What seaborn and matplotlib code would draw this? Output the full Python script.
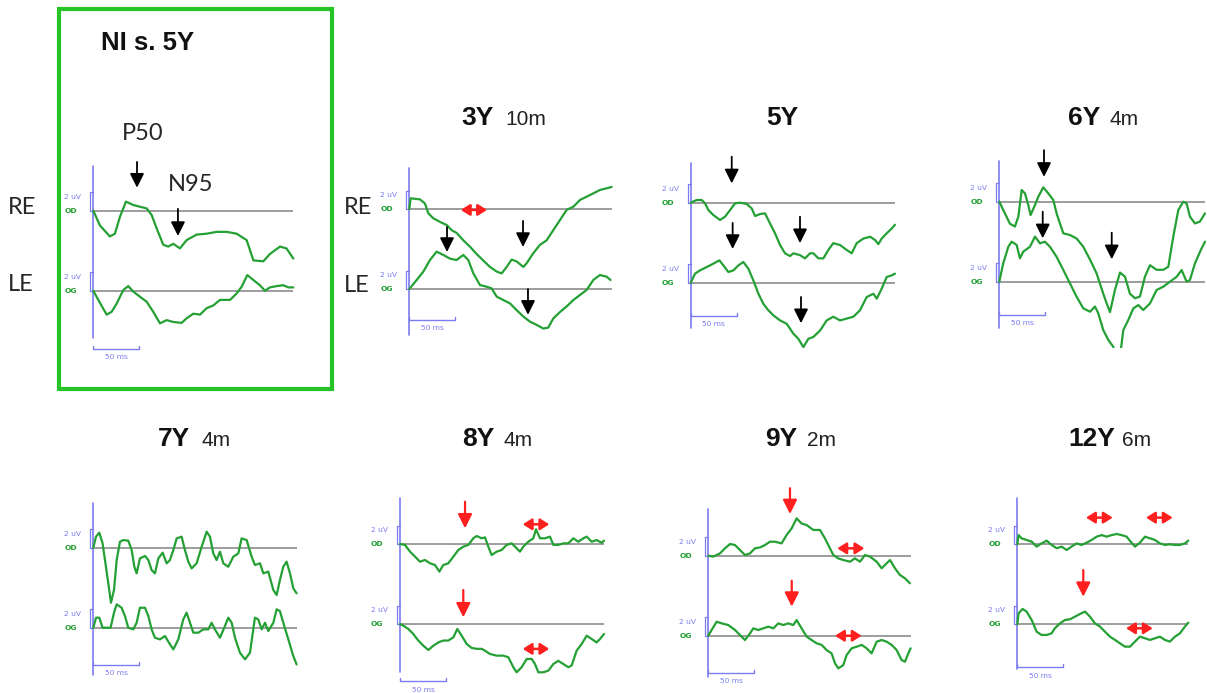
import numpy as np
import pandas as pd
import matplotlib
matplotlib.use("Agg")
import matplotlib.pyplot as plt
from matplotlib.patches import Rectangle
import seaborn as sns

sns.set_theme(style="white")
plt.rcParams["font.family"] = ["Liberation Sans", "DejaVu Sans"]

# ---------------------------------------------------------------- data
# Pattern ERG traces: time (ms) and amplitude (uV) for right (OD) and left (OG) eye

ni_od_ms = [0, 7.2, 18, 23.5, 29, 35.5, 43.5, 50.7, 58, 63.4, 68.8, 76, 81.5, 87, 94.2, 101.4,
            112.3, 123.2, 134, 145, 155.8, 166.7, 174, 184.8, 192, 203, 210, 217.4]
ni_od_uv = [0, -1.6, -2.8, -2.5, -0.65, 0.98, 0.62, 0.43, 0.25, -0.47, -1.9, -3.7, -3.9, -3.6, -4.1, -3.2,
            -2.6, -2.5, -2.3, -2.3, -2.5, -3.2, -5.4, -5.5, -4.7, -3.9, -4.1, -5.2]
ni_og_ms = [0, 5.4, 14.5, 19.9, 25.4, 32.6, 38, 43.5, 50.7, 58, 65.2, 72.5, 79.7, 87, 96, 101.4,
            108.7, 116, 123.2, 130.4, 137.7, 148.6, 155.8, 161.2, 167.4, 174, 181, 186.6, 192, 199.3,
            206.5, 212, 217.4]
ni_og_uv = [0, -1.0, -2.6, -2.3, -1.4, 0.07, 0.5, -0.1, -0.65, -1.2, -2.3, -3.55, -3.2, -3.4, -3.5, -3.0,
            -2.5, -2.6, -1.9, -1.6, -1.0, -1.0, -0.3, 0.43, 1.7, 1.16, 0.6, 0.0, 0.36, 0.5,
            0.6, 0.36, 0.36]

y3_od_ms = [0, 1.4, 11.6, 17, 20.7, 26, 33.3, 40.6, 46, 51.4, 58.7, 66, 73.2, 80.4, 87.7, 95, 100.4,
            105.8, 111.2, 116.7, 124, 127.5, 134.8, 142, 149.3, 156.5, 163.8, 171, 178.3, 185.5, 192.8,
            200, 207.2, 214.5, 220]
y3_od_uv = [0, 1.16, 1.05, 0.6, -0.47, -1.0, -1.4, -1.74, -2.3, -2.6, -3.4, -4.1, -4.9, -5.6, -6.3, -6.8, -7.0,
            -6.3, -5.5, -5.7, -6.3, -5.9, -4.8, -3.9, -3.4, -2.3, -1.2, -0.1, 0.25, 0.98, 1.34,
            1.7, 2.07, 2.25, 2.4]
y3_og_ms = [0, 8, 15.2, 22.5, 29.7, 37, 44.2, 51.4, 58.7, 64.1, 69.6, 76.8, 84, 89.5, 95, 102.2, 109.4,
            116.7, 124, 131.2, 138.4, 145.7, 151, 156.5, 163.8, 171, 178.3, 185.5, 192.8, 200, 207.2,
            214.5, 218.8]
y3_og_uv = [0, 0.98, 1.88, 3.15, 4.06, 3.7, 3.3, 3.15, 3.7, 3.15, 1.7, 0.43, 0.25, 0.07, -0.83, -1.2, -1.56,
            -2.3, -3.0, -3.55, -3.9, -4.3, -4.2, -3.2, -2.5, -1.9, -1.2, -0.65, -0.1, 0.98, 1.52,
            1.34, 0.98]

y5_od_ms = [0, 6.5, 12, 15.6, 19.2, 24.6, 31.9, 37.3, 42.8, 48.2, 53.6, 60.9, 66.3, 70, 75.4, 80.8, 86.2,
            91.7, 97.1, 102.5, 108, 111.6, 118.8, 124.3, 129.7, 133.3, 138.8, 144.2, 149.6, 155, 162.3,
            169.6, 175, 180.4, 187.7, 195, 200.4, 204, 207.6, 213, 218.5, 222]
y5_od_uv = [0, 0.29, 0.29, -0.07, -0.8, -1.34, -1.88, -1.52, -0.8, -0.07, 0, -0.14, -0.62, -1.45, -1.23, -1.16,
            -2.25, -3.33, -4.6, -5.5, -5.8, -5.5, -5.7, -6.05, -5.5, -5.5, -6.05, -6.05, -5.14, -4.4, -4.6,
            -5.14, -5.5, -4.4, -3.9, -3.7, -4.06, -4.5, -3.9, -3.33, -2.8, -2.4]
y5_og_ms = [0, 4.7, 10.1, 17.4, 24.6, 31.2, 35.5, 40.9, 46.4, 51.8, 57.2, 62.7, 68.1, 73.6, 79, 84.4, 89.9,
            97.1, 104.3, 111.6, 117, 122.5, 127.9, 133.3, 140.6, 147.8, 155, 162.3, 169.6, 176.8, 184,
            191.3, 198.6, 202.2, 207.6, 213, 218.5, 222]
y5_og_uv = [0, 0.98, 1.34, 1.7, 2.07, 2.43, 1.88, 1.16, 1.34, 1.88, 2.25, 1.52, 0.25, -1.2, -2.3, -3.0, -3.55,
            -4.1, -4.46, -5.54, -6.1, -7.0, -6.1, -5.9, -5.2, -4.1, -3.7, -4.1, -3.9, -3.7, -3.0,
            -1.56, -1.2, -1.74, -0.65, 0.62, 0.8, 0.98]

y6_od_ms = [0, 4.3, 11.6, 17, 20.7, 24.3, 27.9, 31.5, 34, 38.8, 42.4, 47.8, 53.3, 58.7, 62.3, 65.9, 69.6,
            76.8, 84, 91.3, 98.6, 105.8, 113, 116.7, 120.3, 125.7, 131.2, 136.6, 142, 147.5, 152.9,
            158.3, 163.8, 171, 178.3, 183.7, 189.1, 194.6, 200, 203.6, 207.2, 212.7, 218, 223.6]
y6_od_uv = [0, -0.9, -2.4, -2.7, -1.63, 1.27, 0.9, -0.36, -1.45, -0.36, 0.54, 1.56, 0.9, 0.18, -1.27, -2.36, -3.44,
            -3.62, -4.0, -4.9, -6.3, -7.8, -10.0, -11.05, -12.0, -9.6, -7.7, -8.15, -10.0, -10.5, -10.3,
            -8.15, -6.9, -7.4, -7.4, -7.07, -3.8, -0.9, 0, -0.18, -1.63, -2.36, -2.17, -1.27]
y6_og_ms = [0, 4.3, 9.8, 13.4, 18.8, 22.5, 26, 33.3, 38.8, 44.2, 49.6, 55, 62.3, 69.6, 76.8, 84, 91.3,
            98.6, 104, 107.6, 113, 118.5, 123.9, 127.5, 131.2, 134.8, 140.2, 145.7, 151.1, 156.5, 163.8,
            171, 178.3, 185.5, 192.8, 198.2, 203.6, 207.2, 212.7, 219, 223.6]
y6_og_uv = [0, 2.0, 3.8, 4.35, 4.0, 2.54, 3.26, 3.8, 4.9, 4.17, 4.35, 3.8, 2.7, 1.27, -0.18, -1.63, -2.9,
            -3.26, -2.7, -3.44, -5.25, -6.34, -7.07, -8.9, -8.15, -5.25, -4.17, -2.9, -2.54, -3.08, -2.36,
            -0.9, -0.54, 0, 0.54, 1.27, 0, 0.18, 2.0, 3.44, 4.35]

y7_od_ms = [0, 2.9, 6.5, 10.1, 12.7, 16.3, 19.2, 22.5, 25.4, 29, 32.6, 38, 41.7, 44.6, 47.1, 50.7, 56.2,
            59.8, 63.4, 67, 70.7, 75.4, 79.7, 83.3, 87, 90.6, 96, 99.6, 103.3, 106.9, 112.3, 117.8,
            123.2, 126.8, 130.4, 134, 137.7, 141.3, 146.7, 152.2, 157.6, 161.2, 166.7, 172.1, 175.7,
            181.2, 184.8, 190.2, 195.7, 199.3, 202.9, 206.5, 210.1, 213.8, 217.4, 221]
y7_od_uv = [0, 1.2, 1.63, 0.47, -1.34, -3.88, -5.98, -4.6, -1.34, 0.65, 0.83, 0.76, -0.25, -2.07, -2.79, -1.16, -0.9,
            -1.34, -2.43, -2.79, -1.16, -0.54, -1.7, -1.34, -0.25, 1.01, 1.2, -0.25, -1.52, -2.25, -1.7, 0.11,
            1.74, 1.2, -0.62, -1.34, -0.43, -1.7, -2.07, -0.98, -0.62, 1.01, 0.83, -0.98, -1.88,
            -1.7, -2.79, -2.6, -4.6, -5.14, -3.5, -2.07, -1.52, -2.79, -4.42, -4.96]
y7_og_ms = [0, 2.9, 6.5, 10.1, 14.5, 18.8, 22.5, 25.4, 30.8, 34.4, 38, 43.5, 47.1, 50.7, 56.2, 59.8, 63.4,
            67, 72.5, 77.9, 83.3, 87, 92.4, 97.8, 101.4, 105.1, 108.7, 114.1, 119.6, 125, 128.6, 132.2,
            137.7, 143.1, 146.7, 150.4, 154, 159.4, 164.9, 170.3, 175.7, 179.3, 183, 186.6, 190.2, 195.7,
            199.3, 202.9, 206.5, 212, 217.4, 221]
y7_og_uv = [0, 1.09, 1.09, 0, 0, 0, 1.63, 2.54, 2.17, 1.27, 0, -0.18, 0.54, 2.17, 2.17, 1.27, -0.18,
            -1.09, -1.27, -0.9, -1.8, -2.36, -1.27, 0.9, 1.63, 0.54, -0.54, -0.54, -0.18, -0.18, 0.54, -0.18,
            -1.09, 0.18, 1.09, 0.54, -1.09, -2.72, -3.44, -2.72, 1.09, 0.9, -0.18, 0.54, -0.36, 0.54,
            2.0, 1.8, 0.54, -1.27, -3.08, -3.99]

y8_od_ms = [0, 5.4, 10.9, 16.3, 21.7, 27.2, 32.6, 38, 42.8, 47.1, 52.5, 58, 63.4, 68.8, 74.3, 79.7, 83.3,
            88.8, 92.4, 96, 99.6, 105.1, 110.5, 115.9, 121.4, 126.8, 130.4, 134, 139.5, 144.9, 147.8,
            152.2, 157.6, 163, 166.7, 172.1, 177.5, 183, 188.4, 193.8, 199.3, 202.9, 208.3, 213.8, 219.2, 221.7]
y8_od_uv = [0, -0.1, -0.83, -1.37, -1.92, -1.74, -2.1, -2.28, -3.0, -2.28, -2.1, -1.37, -0.65, -0.29, -0.1, 0.62, 0.87,
            0.62, 0.72, -0.29, -1.2, -0.83, -0.65, -0.1, 0.07, -0.47, -0.83, -0.29, 0.25, 0.62, 1.6,
            0.62, 0.62, 0.8, -0.1, -0.1, 0.07, 0.07, 0.62, 0.25, 0.62, 0.8, 0.25, 0.43, 0.14, 0.36]
y8_og_ms = [0, 3.6, 9.1, 14.5, 19.9, 25.4, 30.8, 36.2, 41.7, 47.1, 52.5, 58, 62.3, 67, 72.5, 77.9, 83.3,
            88.8, 92.4, 97.8, 105.1, 112.3, 117.8, 123.2, 126.8, 132.2, 137.7, 143.1, 146.7, 150.4, 155.8,
            161.2, 166.7, 172.1, 177.5, 183, 186.6, 192, 197.5, 202.9, 208.3, 213.8, 217.4, 221.7]
y8_og_uv = [0, -0.18, -0.54, -1.09, -1.8, -2.36, -2.83, -2.36, -2.0, -1.8, -1.8, -1.45, -0.54, -1.27, -2.17, -2.6, -2.7,
            -2.7, -2.9, -3.26, -3.44, -3.44, -3.62, -4.7, -5.25, -4.7, -3.8, -3.8, -4.35, -5.25, -5.25,
            -5.07, -4.35, -4.0, -4.35, -4.7, -4.5, -2.9, -2.17, -1.27, -1.63, -2.0, -1.63, -1.09]

y9_od_ms = [0, 5.4, 12.7, 18.1, 23.6, 29, 34.4, 39.9, 45.3, 50.7, 56.2, 61.6, 67, 72.5, 79.7, 85.1, 90.6,
            96, 101.4, 106.9, 114.1, 121.4, 126.8, 132.2, 135.9, 141.3, 146.7, 154, 159.4, 164.9, 170.3,
            175.7, 183, 188.4, 193.8, 197.5, 202.9, 208.3, 213.8, 219.2]
y9_od_uv = [0, -0.1, 0.25, 0.8, 1.27, 1.16, 0.62, 0.07, 0.25, 0.8, 0.9, 1.16, 1.52, 1.52, 1.34, 2.25, 2.97,
            4.06, 3.5, 3.33, 2.8, 2.8, 1.88, 0.8, 0.07, -0.29, -0.47, -0.65, -0.29, -0.65, 0.07,
            -0.1, -0.65, -1.37, -0.83, -0.47, -1.37, -2.1, -2.46, -3.0]
y9_og_ms = [0, 3.6, 9.1, 14.5, 21.7, 29, 34.4, 39.9, 45.3, 48.9, 54.3, 59.8, 65.2, 70.7, 76.1, 81.5, 87,
            92.4, 96, 101.4, 106.9, 112.3, 117.8, 123.2, 128.6, 134, 137.7, 141.3, 146.7, 150.4, 155.8,
            161.2, 166.7, 172.1, 177.5, 183, 188.4, 193.8, 199.3, 204.7, 210.1, 213.8, 217.4, 219.9]
y9_og_uv = [0, 0.62, 1.52, 1.34, 1.16, 0.62, 0.07, -0.47, 0.25, 0.8, 0.62, 0.8, 0.98, 0.8, 1.34, 1.16, 1.34,
            1.16, 1.7, 0.8, -0.1, -0.47, -0.83, -1.0, -1.56, -1.92, -3.0, -3.55, -3.2, -2.1, -1.37,
            -1.2, -1.0, -1.37, -1.92, -0.65, -0.47, -0.65, -1.0, -1.56, -2.64, -2.83, -1.92, -1.37]

y12_od_ms = [0, 1.4, 4.7, 10.1, 15.6, 21, 26.4, 31.9, 37.3, 42.8, 48.2, 53.6, 59, 64.5, 69.9, 75.4, 80.8,
             86.2, 91.7, 97.1, 102.5, 108, 113.4, 118.8, 123.2, 127.9, 133.3, 138.8, 144.2, 149.6, 155,
             160.5, 165.9, 171.4, 176.8, 182.2, 185.9]
y12_od_uv = [0, 1.0, 0.65, 0.47, 0.29, -0.25, 0.1, 0.4, -0.07, -0.43, -0.25, -0.62, -0.25, 0.1, -0.07, 0.18, 0.47,
             0.83, 1.0, 0.83, 1.0, 1.12, 1.0, 0.83, 0.29, -0.25, 0.18, 0.83, 0.65, 0.47, 0.1,
             -0.07, 0, -0.07, -0.07, 0.1, 0.4]
y12_og_ms = [0, 1.4, 5.8, 10.1, 15.6, 21, 26.4, 31.9, 37.3, 40.9, 46.4, 51.8, 57.2, 62.7, 68.1, 73.6, 79,
             84.4, 89.9, 95.3, 100.7, 106.2, 111.6, 117, 122.5, 127.9, 133.3, 138.8, 144.2, 149.6, 155,
             160.5, 165.9, 171.4, 176.8, 182.2, 185.9]
y12_og_uv = [0, 1.2, 1.67, 1.38, 0.47, -0.8, -1.16, -1.16, -0.98, -0.43, 0.1, 0.47, 0.54, 0.83, 1.12, 1.38, 0.83,
             0.1, -0.25, -0.8, -1.34, -1.7, -2.07, -2.43, -2.43, -1.88, -1.34, -1.52, -1.7, -1.52, -1.34,
             -1.7, -1.88, -1.34, -0.98, -0.25, 0.18]

# ---------------------------------------------------------------- style
W, H = 1207, 693
PX_MS = 0.92            # pixels per millisecond
PX_UV = 9.2             # pixels per microvolt
OG_SHIFT = -80 / PX_UV  # left-eye trace drawn below the right-eye trace

TRACE = "#24a034"
BASE = "#8c8c8c"
BLUE = "#7c7cf2"
RED = "#ff1f1f"
BOX = "#27c427"
TITLE_FONT = ["Liberation Sans", "DejaVu Sans"]
LABEL_FONT = ["Lato", "DejaVu Sans"]

fig = plt.figure(figsize=(W / 100, H / 100), dpi=100)


def fx(x):
    return x / W


def fy(y):
    return 1 - y / H


def make_axes(x0, y0, bottom=150, left=45, right=215, top=62):
    ax = fig.add_axes([fx(x0 - left), fy(y0 + bottom), (left + right) / W, (top + bottom) / H])
    return ax, (-left / PX_MS, right / PX_MS), (-bottom / PX_UV, top / PX_UV)


def draw_panel(p):
    ax, xl, yl = make_axes(p["x0"], p["y0"], bottom=p.get("clip", 150))
    sweep = max(max(p["od"][0]), max(p["og"][0]))
    for (ms, uv), shift, tag in ((p["od"], 0.0, "OD"), (p["og"], OG_SHIFT, "OG")):
        ax.plot([0, sweep], [shift, shift], color=BASE, lw=1.2, zorder=1, solid_capstyle="butt")
        df = pd.DataFrame({"ms": ms, "uv": np.asarray(uv, dtype=float) + shift})
        sns.lineplot(data=df, x="ms", y="uv", ax=ax, color=TRACE, lw=1.6,
                     estimator=None, sort=False, legend=False, zorder=3)
        bx = -3.2 / PX_MS
        ax.plot([0, bx, bx, 0], [shift, shift, shift + 2, shift + 2], color=BLUE, lw=0.9,
                clip_on=False, zorder=2)
        ax.text(-29 / PX_MS, shift + 14 / PX_UV, "2 uV", color=BLUE, fontsize=5.4,
                family=["DejaVu Sans"], ha="left", va="center")
        ax.text(-29 / PX_MS, shift, tag, color=TRACE, fontsize=5.4, fontweight="bold",
                family=["DejaVu Sans"], ha="left", va="center")
    top, bot = p["axis"]
    ax.plot([0, 0], [top / PX_UV, -bot / PX_UV], color=BLUE, lw=1.2, clip_on=False, zorder=2)
    yb = -p["bar"] / PX_UV
    ax.plot([0, 0, 50, 50], [yb + 3 / PX_UV, yb, yb, yb + 3 / PX_UV], color=BLUE, lw=1.0,
            clip_on=False)
    ax.text(23 / PX_MS, yb - 8.5 / PX_UV, "50 ms", color=BLUE, fontsize=5.4,
            family=["DejaVu Sans"], ha="center", va="center")
    for t, tail, tip, c in p.get("arrows", []):
        ax.annotate("", xy=(t, tip), xytext=(t, tail), annotation_clip=False,
                    arrowprops=dict(arrowstyle="-|>,head_length=0.5,head_width=0.25",
                                    color=c, lw=1.3 if c == "black" else 1.6,
                                    shrinkA=0, shrinkB=0, mutation_scale=17))
    for t1, t2, v in p.get("doubles", []):
        ax.annotate("", xy=(t2, v), xytext=(t1, v), annotation_clip=False,
                    arrowprops=dict(arrowstyle="<|-|>,head_length=0.38,head_width=0.24",
                                    color=RED, lw=1.8, shrinkA=0, shrinkB=0, mutation_scale=14))
    ax.set_xlim(*xl)
    ax.set_ylim(*yl)
    ax.set_axis_off()


K = "black"
panels = [
    dict(x0=93.3, y0=210.7, od=(ni_od_ms, ni_od_uv), og=(ni_og_ms, ni_og_uv), axis=(44.7, 127.3), bar=138,
         arrows=[(47.5, 5.3, 2.5, K), (92, 0.2, -2.75, K)]),
    dict(x0=409.3, y0=209, od=(y3_od_ms, y3_od_uv), og=(y3_og_ms, y3_og_uv), axis=(41, 126), bar=111,
         arrows=[(41, -1.96, -4.67, K), (123.6, -1.3, -4.13, K), (129, -8.7, -11.5, K)],
         doubles=[(56, 84.5, -0.1)]),
    dict(x0=690.7, y0=202.7, od=(y5_od_ms, y5_od_uv), og=(y5_og_ms, y5_og_uv), axis=(40, 125.3), bar=113,
         arrows=[(44.6, 5.0, 2.1, K), (45.6, -2.2, -5.03, K), (118.8, -1.52, -4.4, K),
                 (119.9, -10.25, -13.1, K)]),
    dict(x0=999.3, y0=201.7, od=(y6_od_ms, y6_od_uv), og=(y6_og_ms, y6_og_uv), axis=(41, 126.3), bar=113,
         clip=146.3,
         arrows=[(48.6, 5.6, 2.7, K), (47.2, -1.09, -3.98, K), (122.2, -3.37, -6.26, K)]),
    dict(x0=93.3, y0=547.7, od=(y7_od_ms, y7_od_uv), og=(y7_og_ms, y7_og_uv), axis=(44.7, 127.3), bar=117),
    dict(x0=400, y0=544, od=(y8_od_ms, y8_od_uv), og=(y8_og_ms, y8_og_uv), axis=(46, 127.7), bar=137,
         arrows=[(70.7, 4.6, 1.7, RED), (68.8, -5.0, -7.97, RED)],
         doubles=[(133.4, 162.3, 2.14), (133.4, 162.3, -11.4)]),
    dict(x0=708.3, y0=555.7, od=(y9_od_ms, y9_od_uv), og=(y9_og_ms, y9_og_uv), axis=(46.7, 121), bar=117,
         arrows=[(88.8, 7.33, 4.53, RED), (90.7, -2.72, -5.54, RED)],
         doubles=[(140.2, 169.6, 0.8), (137.7, 166.7, -8.7)]),
    dict(x0=1017.3, y0=544.3, od=(y12_od_ms, y12_od_uv), og=(y12_og_ms, y12_og_uv), axis=(46.3, 125), bar=123,
         arrows=[(71.7, -2.8, -5.7, RED)],
         doubles=[(74.7, 103.7, 2.9), (139.9, 168.9, 2.9), (118.2, 147.2, -9.13)]),
]

for p in panels:
    draw_panel(p)

# ---------------------------------------------------------------- titles and labels
titles = [
    ("3Y", "10m", 461.7, 125, 505),
    ("5Y", "", 766, 125, 0),
    ("6Y", "4m", 1068.3, 125, 1110),
    ("7Y", "4m", 158.3, 446, 201.7),
    ("8Y", "4m", 461.7, 446, 504),
    ("9Y", "2m", 765, 446, 806.7),
    ("12Y", "6m", 1068.3, 446, 1121.7),
]
for bold, suffix, xb, yb, xs in titles:
    fig.text(fx(xb), fy(yb), bold, fontsize=19, fontweight="bold", family=TITLE_FONT,
             ha="left", va="baseline", color="#111111")
    if suffix:
        fig.text(fx(xs), fy(yb), suffix, fontsize=15, family=TITLE_FONT,
                 ha="left", va="baseline", color="#222222")

fig.text(fx(147.5), fy(43.3), "NI s. 5Y", fontsize=18.5, fontweight="bold", family=TITLE_FONT,
         ha="center", va="center", color="#111111")
fig.text(fx(142.5), fy(134), "P50", fontsize=17, family=LABEL_FONT, ha="center", va="center")
fig.text(fx(191), fy(184.5), "N95", fontsize=17, family=LABEL_FONT, ha="center", va="center")

for xl, yr, yl in ((8, 207, 285), (344, 208, 286)):
    fig.text(fx(xl), fy(yr), "RE", fontsize=17, family=LABEL_FONT, ha="left", va="center")
    fig.text(fx(xl), fy(yl), "LE", fontsize=17, family=LABEL_FONT, ha="left", va="center")

fig.patches.append(Rectangle((fx(59.5), fy(389)), (332 - 59.5) / W, (389 - 9.5) / H,
                             transform=fig.transFigure, fill=False, ec=BOX, lw=3.0))

fig.savefig("out.png", dpi=100, facecolor="white")
